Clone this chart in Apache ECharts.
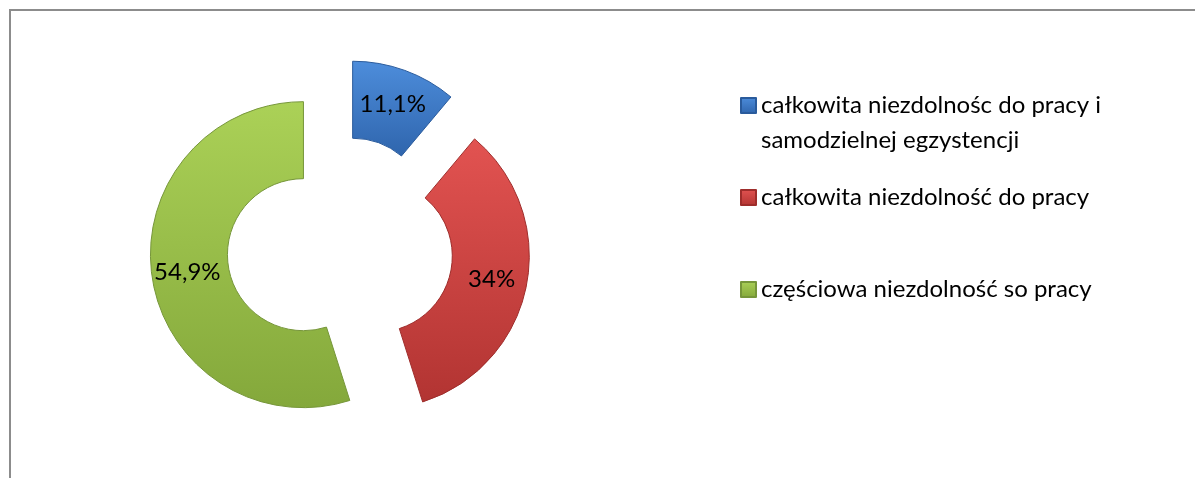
<!DOCTYPE html>
<html>
<head>
<meta charset="utf-8">
<script src="https://cdn.jsdelivr.net/npm/echarts@6/dist/echarts.min.js"></script>
<style>
    html, body { margin: 0; padding: 0; background: #fff; }
    #frame {
        position: absolute; left: 9px; top: 9px; width: 1300px; height: 600px;
        border-left: 2px solid #8c8c8c; border-top: 2px solid #8c8c8c;
    }
    #chart { position: absolute; left: 0; top: 0; width: 1195px; height: 478px; }
</style>
</head>
<body>
<div id="frame"></div>
<div id="chart"></div>
<script>
// kategorie i udzialy (%)
var names = [
    'całkowita niezdolnośc do pracy i\nsamodzielnej egzystencji',
    'całkowita niezdolność do pracy',
    'częściowa niezdolność so pracy'
];
var values = [11.1, 34, 54.9];
var colorsTop = ['#4d8ddb', '#e25351', '#abd157'];
var colorsBottom = ['#2f65ad', '#b23432', '#84a83b'];
var borders = ['#2a5b9c', '#9e2d2b', '#76963a'];

function fill(i) {
    return new echarts.graphic.LinearGradient(0, 0, 0, 1, [
        {offset: 0, color: colorsTop[i]},
        {offset: 1, color: colorsBottom[i]}
    ]);
}

var all = [];
for (var i = 0; i < values.length; i++) {
    all.push({
        name: names[i],
        value: values[i],
        selected: true,
        itemStyle: {color: fill(i), borderColor: borders[i], borderWidth: 1}
    });
}

var font = 'Lato, "Open Sans", sans-serif';
var legendTops = [53, 180, 272];
var legends = [];
for (i = 0; i < names.length; i++) {
    legends.push({
        data: [names[i]],
        orient: 'vertical',
        left: 740,
        top: legendTops[i],
        padding: 0,
        itemWidth: 15,
        itemHeight: 15,
        itemGap: 0,
        icon: 'rect',
        selectedMode: false,
        formatter: function (name) {
            // pierwsza linia wyrownana do ikony
            return name.indexOf('\n') >= 0 ? '\n' + name : name;
        },
        textStyle: {
            fontFamily: font,
            fontSize: 24,
            lineHeight: 35,
            color: '#000'
        }
    });
}

var option = {
    animation: false,
    legend: legends,
    series: [
        {
            name: 'niezdolność',
            type: 'pie',
            center: [340, 249],
            radius: [76, 153],
            startAngle: 90,
            selectedMode: 'multiple',
            selectedOffset: 37,
            label: {
                show: true,
                position: 'inside',
                fontFamily: font,
                fontSize: 24,
                color: '#000',
                formatter: function (p) {
                    return String(p.value).replace('.', ',') + '%';
                }
            },
            labelLine: {show: false},
            emphasis: {disabled: true},
            select: {itemStyle: {borderWidth: 1}},
            data: all
        }
    ]
};
var myChart = echarts.init(document.getElementById('chart'));
myChart.setOption(option);
</script>
</body>
</html>
